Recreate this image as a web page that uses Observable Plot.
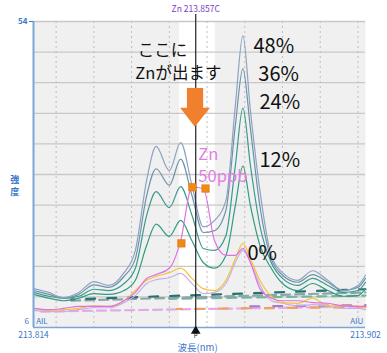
<!DOCTYPE html>
<html>
<head>
<meta charset="utf-8">
<script src="https://cdn.jsdelivr.net/npm/d3@7"></script>
<script src="https://cdn.jsdelivr.net/npm/@observablehq/plot@0.6"></script>
<style>
  html, body { margin: 0; padding: 0; background: #fff; }
</style>
</head>
<body>
<div id="chart"></div>
<script>
// ---- data (wavelength in nm, intensity) ----
const wavelengths = [213.814, 213.818, 213.822, 213.826, 213.830, 213.834, 213.838, 213.841, 213.844, 213.8465, 213.850, 213.853, 213.856, 213.859, 213.862, 213.865, 213.8675, 213.8695, 213.8715, 213.874, 213.877, 213.880, 213.884, 213.888, 213.892, 213.896, 213.900, 213.902];
const s48 = [12.1,11.5,10.7,11.5,13.2,12.6,14.6,18.1,29.1,34.4,30.6,35.0,28.3,21.8,22.8,25.9,40.8,51.8,40.0,27.5,17.3,14.6,13.4,14.9,13.4,11.8,12.6,14.2];
const s36 = [11.8,11.2,10.6,11.2,12.7,12.3,14.0,16.8,26.7,30.9,28.3,32.4,26.7,20.9,21.2,24.4,37.7,46.6,37.2,25.1,16.8,14.2,13.1,14.3,13.1,11.8,12.3,13.7];
const s24 = [11.5,10.9,10.6,10.9,12.0,11.8,12.9,15.3,23.6,27.3,24.8,28.1,23.6,18.4,18.1,20.4,31.4,40.4,31.4,22.0,16.2,13.7,12.6,13.7,12.6,11.5,11.8,13.1];
const s12 = [11.2,10.6,10.2,10.6,11.3,11.2,11.8,13.4,18.9,22.2,20.3,22.8,19.6,16.2,15.3,17.3,25.1,31.3,25.1,18.9,15.3,12.9,11.8,12.9,11.8,10.9,11.0,12.1];
const s0yellow = [9.0,8.7,8.8,9.0,9.4,9.3,10.2,11.8,13.4,14.0,14.6,15.3,13.7,12.1,11.8,13.4,16.8,19.2,16.8,13.4,10.9,9.9,9.8,10.6,9.4,9.4,9.3,9.1];
const s0lavender = [8.7,8.5,8.5,8.8,9.1,9.1,9.9,11.0,12.9,13.5,13.8,14.5,12.9,11.3,11.5,12.9,16.2,18.1,16.2,12.7,10.2,9.8,9.4,9.6,9.3,9.0,9.0,8.8];
const zn50ppb = [9.0,8.8,9.0,9.3,9.3,9.3,10.2,11.5,13.7,14.3,15.3,19.6,28.0,27.8,19.6,17.3,17.3,18.4,16.2,12.1,10.6,10.2,10.2,9.9,9.8,9.4,9.3,9.3];

// baselines (dashed)
const baseDarkX = [213.824, 213.902], baseDarkY = [10.4, 12.0];
const baseGrayX = [213.824, 213.902], baseGrayY = [10.2, 11.5];
const baseGreenX = [213.850, 213.902], baseGreenY = [10.5, 11.0];
const basePinkX = [213.816, 213.902], basePinkY = [8.5, 9.3];
const baseOrangeX = [213.852, 213.902], baseOrangeY = [8.9, 9.2];
const basePurpleX = [213.868, 213.902], basePurpleY = [9.3, 9.5];

// measurement points (orange squares)
const pointX = [213.8532, 213.8561, 213.8596];
const pointY = [19.2, 28.0, 27.8];

// axis / reference values
const xDomain = [213.814, 213.902];
const yDomain = [6, 54];
const xEndTicks = [213.814, 213.902];
const yTopTick = [54];
const gridX = [213.82, 213.83, 213.84, 213.85, 213.86, 213.87, 213.88, 213.89, 213.90];
const gridY = [10.8, 15.6, 20.4, 25.2, 30.0, 34.8, 39.6, 44.4, 49.2, 54.0];
const peakLine = 213.857;
const windowBand = [213.8527, 213.8622];

// concentration labels
const concLabels = ["48%", "36%", "24%", "12%", "0%"];
const concLabelX = [213.8723, 213.8736, 213.8739, 213.8739, 213.8707];
const concLabelY = [50.1, 45.7, 41.3, 32.2, 17.6];

// ---- build tables ----
const toRows = (xs, ys) => xs.map((x, i) => ({x, y: ys[i]}));
const FONT = "'Noto Sans CJK JP', 'Noto Sans', sans-serif";
const BLUE = "#3a78c8";
const AXIS = "#7ba7d7";

const lineSeries = [
  {rows: toRows(wavelengths, s0lavender), stroke: "#c9aee6"},
  {rows: toRows(wavelengths, s0yellow), stroke: "#f2c53d"},
  {rows: toRows(wavelengths, s12), stroke: "#2f9b80"},
  {rows: toRows(wavelengths, s24), stroke: "#3b9a8e"},
  {rows: toRows(wavelengths, s36), stroke: "#6b93a8"},
  {rows: toRows(wavelengths, s48), stroke: "#8ea2c2"},
  {rows: toRows(wavelengths, zn50ppb), stroke: "#e072e0"}
];
const dashSeries = [
  {rows: toRows(basePinkX, basePinkY), stroke: "#e2aae8", dash: "9,5", off: 0},
  {rows: toRows(baseOrangeX, baseOrangeY), stroke: "#f0a060", dash: "9,14", off: 4},
  {rows: toRows(basePurpleX, basePurpleY), stroke: "#a77acb", dash: "9,14", off: 10},
  {rows: toRows(baseGreenX, baseGreenY), stroke: "#6fb79f", dash: "9,6", off: 2},
  {rows: toRows(baseGrayX, baseGrayY), stroke: "#8aa6a8", dash: "9,5", off: 0},
  {rows: toRows(baseDarkX, baseDarkY), stroke: "#2b6f72", dash: "9,12", off: 6}
];

// arrow geometry (data coords)
const arrowShaft = [{x1: 213.8548, x2: 213.8591, y1: 40.3, y2: 43.5}];
const arrowHead = [{y: 40.4, x1: 213.8530, x2: 213.8609}, {y: 37.4, x1: 213.8569, x2: 213.8569}];

const marks = [
  Plot.frame({fill: "#f0f0f0", stroke: null}),
  Plot.rect([windowBand], {x1: d => d[0], x2: d => d[1], y1: yDomain[0], y2: yDomain[1], fill: "#ffffff"}),
  Plot.ruleY(gridY, {stroke: "#c8c8c8", strokeWidth: 1.3}),
  Plot.ruleX(gridX, {stroke: "#bdbdbd", strokeWidth: 1, strokeDasharray: "2,3"}),
  ...dashSeries.map(s => Plot.line(s.rows, {x: "x", y: "y", stroke: s.stroke, strokeWidth: 2.2, strokeDasharray: s.dash, strokeDashoffset: s.off})),
  ...lineSeries.map(s => Plot.line(s.rows, {x: "x", y: "y", stroke: s.stroke, strokeWidth: 1.2, curve: "monotone-x"})),
  Plot.ruleX([peakLine], {y1: 5.5, y2: 55.1, stroke: "#222", strokeWidth: 1.2}),
  Plot.rect(arrowShaft, {x1: "x1", x2: "x2", y1: "y1", y2: "y2", fill: "#f07f2e"}),
  Plot.areaX(arrowHead, {y: "y", x1: "x1", x2: "x2", fill: "#f07f2e"}),
  Plot.dot(toRows(pointX, pointY), {x: "x", y: "y", symbol: "square", r: 4.3, fill: "#f08a14", stroke: "#e07010", strokeWidth: 0.5}),
  // axes lines
  Plot.ruleX([xDomain[0]], {stroke: AXIS, strokeWidth: 2}),
  Plot.ruleY([yDomain[0]], {stroke: AXIS, strokeWidth: 1.6}),
  Plot.axisY(yTopTick, {tickSize: 4, tickPadding: 2, fontSize: 8, color: BLUE, label: null, fontWeight: "bold"}),
  Plot.axisX(xEndTicks, {tickSize: 0, tickPadding: 4, fontSize: 8.5, color: BLUE, label: null, tickFormat: d => d.toFixed(3)}),
  // annotations
  Plot.text(["ここに"], {x: 213.8416, y: 49.45, text: d => d, textAnchor: "start", fontSize: 16.5, fill: "#111"}),
  Plot.text(["Znが出ます"], {x: 213.8410, y: 45.75, text: d => d, textAnchor: "start", fontSize: 16.5, fill: "#111"}),
  Plot.text(concLabels, {x: (d, i) => concLabelX[i], y: (d, i) => concLabelY[i], text: d => d, textAnchor: "start", fontSize: 20, fill: "#111"}),
  Plot.text(["Zn"], {x: 213.8577, y: 33.1, text: d => d, textAnchor: "start", fontSize: 16.5, fill: "#e07ee0"}),
  Plot.text(["50ppb"], {x: 213.8577, y: 29.6, text: d => d, textAnchor: "start", fontSize: 16.5, fill: "#e07ee0"}),
  Plot.text(["Zn 213.857C"], {x: peakLine, y: 55.9, text: d => d, fontSize: 8.5, fill: "#7a3cc4"}),
  Plot.text(["強"], {x: 213.8090, y: 29.1, text: d => d, fontSize: 9, fontWeight: "bold", fill: BLUE}),
  Plot.text(["度"], {x: 213.8090, y: 27.3, text: d => d, fontSize: 9, fontWeight: "bold", fill: BLUE}),
  Plot.text(["6"], {x: 213.8128, y: 6.9, text: d => d, textAnchor: "end", fontSize: 8, fill: BLUE}),
  Plot.text(["AIL"], {x: 213.8147, y: 6.9, text: d => d, textAnchor: "start", fontSize: 8, fill: BLUE}),
  Plot.text(["AIU"], {x: 213.9014, y: 6.9, text: d => d, textAnchor: "end", fontSize: 8, fill: BLUE}),
  Plot.dot([peakLine], {x: d => d, y: 5.45, symbol: "triangle", r: 3.6, fill: "#111"}),
  Plot.text(["P"], {x: peakLine, y: 4.65, text: d => d, fontSize: 6, fill: "#111"}),
  Plot.text(["波長(nm)"], {x: 213.8575, y: 2.85, text: d => d, fontSize: 9.5, fill: BLUE})
];

const chart = Plot.plot({
  width: 387,
  height: 353,
  marginLeft: 33,
  marginRight: 22,
  marginTop: 21,
  marginBottom: 26,
  x: {domain: xDomain},
  y: {domain: yDomain},
  style: {fontFamily: FONT, background: "#ffffff", overflow: "visible"},
  marks
});
document.getElementById("chart").appendChild(chart);
</script>
</body>
</html>
